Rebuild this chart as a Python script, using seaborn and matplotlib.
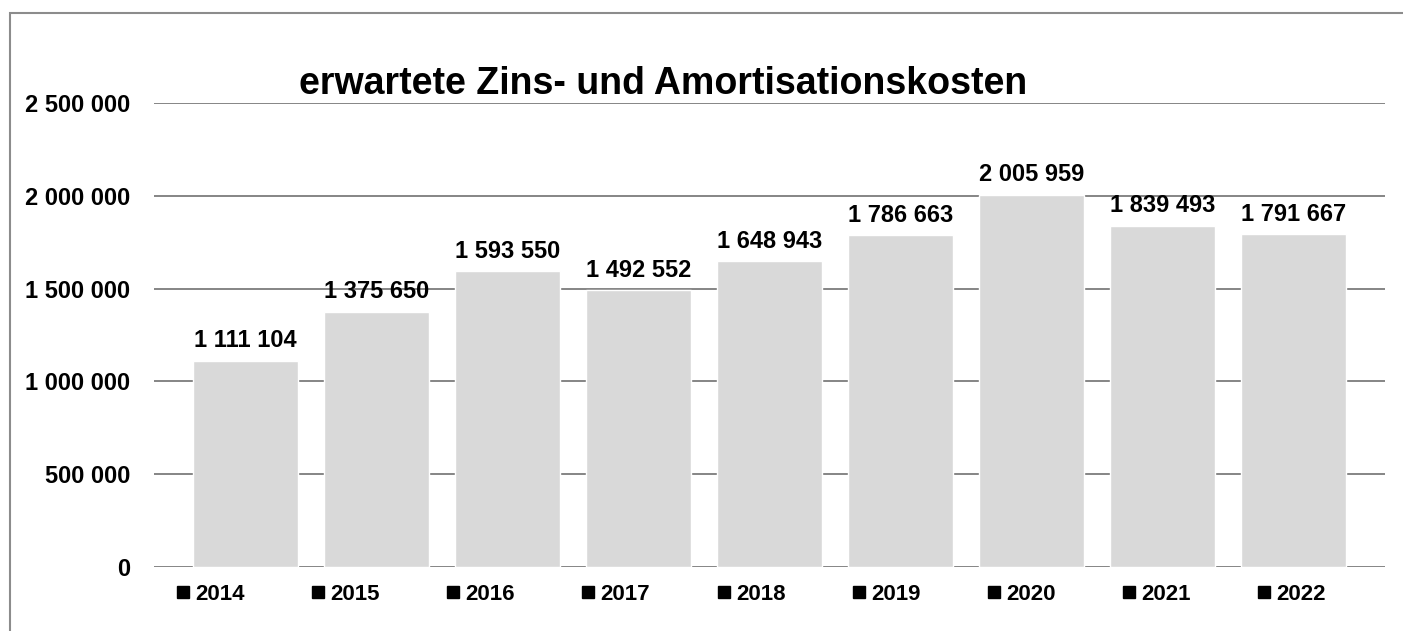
import matplotlib
matplotlib.use("Agg")
import matplotlib.pyplot as plt
import seaborn as sns
import pandas as pd
from matplotlib.lines import Line2D
from matplotlib.patches import Rectangle

# Chart data
years = ["2014", "2015", "2016", "2017", "2018", "2019", "2020", "2021", "2022"]
costs = [1111104, 1375650, 1593550, 1492552, 1648943, 1786663, 2005959, 1839493, 1791667]
y_ticks = [0, 500000, 1000000, 1500000, 2000000, 2500000]
title = "erwartete Zins- und Amortisationskosten"

df = pd.DataFrame({"Jahr": years, "Kosten": costs})


def fmt(v):
    return f"{v:,}".replace(",", " ")


sns.set_theme(style="white", rc={"text.color": "black", "ytick.color": "black"})
plt.rcParams["font.family"] = ["Liberation Sans", "DejaVu Sans"]

fig = plt.figure(figsize=(14.03, 6.31), dpi=100)
ax = fig.add_axes([154 / 1403, 1 - 567 / 631, (1385 - 154) / 1403, (567 - 103) / 631])

sns.barplot(data=df, x="Jahr", y="Kosten", color="#d9d9d9", saturation=1,
            width=0.8, ax=ax, zorder=3)

ax.set_xlim(-0.695, len(years) - 1 + 0.695)
ax.set_ylim(0, 2500000)
ax.set_yticks(y_ticks)
ax.set_yticklabels([fmt(t) for t in y_ticks], fontsize=17, fontweight="bold", color="black")
ax.tick_params(axis="y", length=0, pad=17)
ax.set_xticks([])
ax.set_xlabel("")
ax.set_ylabel("")
ax.grid(axis="y", color="#858585", linewidth=1.4, zorder=0)
for s in ax.spines.values():
    s.set_visible(False)

# value labels
ax.bar_label(ax.containers[0], labels=[fmt(v) for v in costs], padding=6,
             fontsize=17, fontweight="bold", color="black")

# title
fig.text(663 / 1403, 1 - 84 / 631, title, ha="center", va="center",
         fontsize=27, fontweight="bold", color="black")

# legend-like year row
handles = [Line2D([], [], marker="s", color="black", linestyle="None", markersize=8)
           for _ in years]
fig.legend(handles, years, ncol=len(years), loc="center",
           bbox_to_anchor=(751 / 1403, 1 - 594 / 631), frameon=False,
           handlelength=0.6, handletextpad=0.25, columnspacing=3.0,
           labelcolor="black", prop={"size": 16, "weight": "bold"})

# outer frame
fig.patches.append(Rectangle((10 / 1403, -0.05), 1.1, 1 - 13 / 631 + 0.05,
                             transform=fig.transFigure, fill=False,
                             edgecolor="#8c8c8c", linewidth=1.5))

fig.savefig("out.png", dpi=100)
